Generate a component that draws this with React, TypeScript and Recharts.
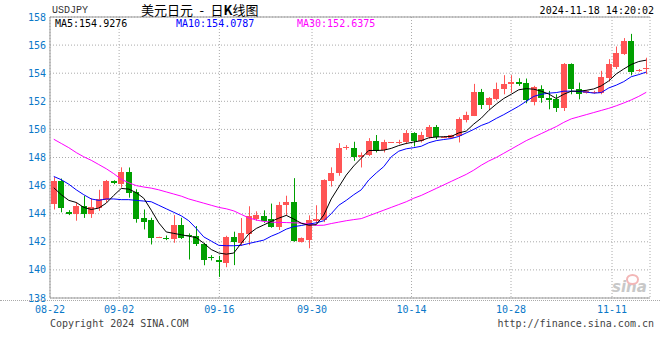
import React from "react";
import {
  ComposedChart,
  Bar,
  Line,
  XAxis,
  YAxis,
  CartesianGrid,
  ReferenceLine,
} from "recharts";

// USDJPY daily candles
const open = [
  144.7, 146.3, 144.1, 144.0, 144.55, 143.95, 144.38, 145.0, 146.3, 146.1,
  147.0, 145.57, 143.71, 143.52, 142.3, 142.3, 142.17, 143.19, 142.5, 142.4,
  141.86, 140.9, 140.74, 140.46, 142.31, 141.9, 142.55, 143.64, 143.86, 143.59,
  143.08, 144.6, 144.82, 142.0, 142.14, 143.45, 143.52, 146.34, 146.9, 148.68,
  148.71, 148.07, 148.19, 149.17, 148.52, 149.05, 149.05, 149.07, 149.74, 149.19,
  149.48, 150.14, 149.43, 149.38, 149.5, 150.67, 150.98, 152.69, 151.76, 152.14,
  152.86, 153.21, 153.38, 153.33, 151.95, 152.9, 152.21, 152.19, 151.55, 154.64,
  152.9, 152.62, 152.6, 152.62, 153.69, 154.45, 155.4, 156.3, 154.15, 154.29,
];
const high = [
  146.6, 146.5, 144.25, 144.8, 145.26, 145.1, 145.7, 146.4, 146.38, 147.3,
  147.29, 145.74, 144.3, 143.71, 142.36, 142.45, 143.9, 143.71, 142.6, 143.12,
  141.93, 141.05, 141.0, 142.43, 142.72, 143.69, 144.53, 144.17, 144.24, 144.72,
  144.84, 145.28, 146.53, 142.31, 143.88, 144.6, 146.45, 147.3, 149.02, 148.88,
  149.12, 148.36, 149.38, 149.6, 149.26, 149.1, 149.26, 149.95, 149.8, 149.83,
  150.31, 150.31, 149.52, 149.62, 150.86, 151.26, 153.24, 152.88, 152.3, 153.33,
  153.86, 153.86, 153.64, 153.62, 153.1, 153.14, 152.74, 152.5, 154.72, 154.7,
  153.33, 152.8, 152.75, 154.17, 155.0, 155.9, 156.5, 156.8, 154.3, 155.1,
];
const low = [
  144.3, 144.1, 143.9, 143.5, 143.7, 143.7, 144.2, 144.8, 146.1, 145.86,
  145.14, 143.36, 142.88, 141.81, 142.29, 142.12, 141.93, 142.2, 140.74, 141.7,
  140.33, 140.67, 139.5, 140.19, 140.34, 141.71, 141.76, 143.5, 143.35, 143.0,
  142.84, 143.88, 142.0, 141.95, 141.54, 143.28, 143.4, 145.93, 146.7, 148.55,
  147.76, 147.29, 148.1, 148.36, 148.36, 149.03, 148.95, 148.95, 148.79, 149.07,
  149.36, 149.31, 149.38, 149.35, 149.07, 150.5, 150.95, 151.45, 151.4, 152.07,
  152.5, 152.62, 153.1, 151.86, 151.71, 151.9, 151.43, 151.24, 151.31, 152.5,
  152.14, 152.55, 152.55, 152.5, 153.4, 154.3, 155.3, 153.85, 154.1, 153.93,
];
const close = [
  146.3, 144.4, 144.0, 144.57, 143.95, 144.48, 145.07, 146.33, 146.17, 147.0,
  145.45, 143.64, 143.43, 142.24, 142.35, 142.25, 143.19, 142.24, 142.38, 141.81,
  140.74, 140.83, 140.57, 142.31, 142.0, 142.63, 143.81, 143.93, 143.47, 143.08,
  144.65, 144.82, 142.07, 142.24, 143.52, 143.64, 146.41, 146.89, 148.67, 148.74,
  148.05, 148.17, 149.17, 148.48, 149.07, 149.08, 149.12, 149.74, 149.19, 149.6,
  150.14, 149.43, 149.47, 149.6, 150.74, 151.02, 152.69, 151.76, 152.26, 152.9,
  153.21, 153.38, 153.26, 152.07, 153.05, 152.21, 152.1, 151.5, 154.69, 152.86,
  152.5, 152.72, 152.68, 153.74, 154.64, 155.45, 156.28, 154.1, 154.25, 154.4,
];

const ma5 = [
  145.85, 145.35, 144.95, 144.8, 144.45, 144.3, 144.4, 144.75, 145.3, 145.8,
  145.75, 145.5, 145.1, 144.25, 143.35, 142.7, 142.6, 142.5, 142.4, 142.3,
  141.9, 141.45, 141.2, 141.12, 141.2, 141.9, 142.55, 142.95, 143.2, 143.45,
  143.68, 143.88, 143.62, 143.32, 143.18, 143.22, 143.9, 145.05, 145.9, 146.75,
  147.4, 147.95, 148.5, 148.5, 148.52, 148.65, 148.85, 149.0, 149.1, 149.2,
  149.4, 149.46, 149.48, 149.5, 149.75, 149.88, 150.38, 150.8, 151.35, 151.8,
  152.2, 152.5, 152.82, 152.9, 152.86, 152.72, 152.52, 152.2, 152.5, 152.72,
  152.72, 152.78, 152.88, 153.1, 153.45, 153.95, 154.3, 154.62, 154.83, 154.93,
];
const ma10 = [
  146.65, 146.42, 146.1, 145.7, 145.35, 145.05, 144.95, 145.05, 145.05, 145.0,
  145.0, 144.95, 144.9, 144.85, 144.6, 144.35, 144.1, 143.85, 143.5, 142.95,
  142.35, 142.05, 141.75, 141.72, 141.72, 141.75, 141.88, 142.0, 142.12, 142.4,
  142.62, 142.9, 143.08, 143.16, 143.26, 143.35, 143.5, 144.0, 144.6, 144.95,
  145.35, 145.7, 146.4, 146.9, 147.35, 148.05, 148.45, 148.62, 148.7, 148.8,
  149.05, 149.2, 149.28, 149.35, 149.5, 149.75, 150.0, 150.28, 150.48, 150.78,
  151.05, 151.35, 151.65, 152.0, 152.35, 152.5, 152.58, 152.62, 152.72, 152.72,
  152.7, 152.66, 152.58, 152.62, 152.95, 153.15, 153.4, 153.75, 153.9, 154.08,
];
const ma30 = [
  149.3, 149.0, 148.7, 148.35, 148.05, 147.8, 147.5, 147.2, 146.85, 146.45,
  146.2, 146.0, 145.9, 145.82, 145.7, 145.55, 145.4, 145.25, 145.05, 144.9,
  144.75, 144.6, 144.45, 144.35, 144.2, 143.95, 143.7, 143.55, 143.45, 143.4,
  143.38, 143.37, 143.35, 143.33, 143.25, 143.17, 143.18, 143.3, 143.4, 143.5,
  143.58, 143.65, 143.85, 144.05, 144.25, 144.45, 144.65, 144.85, 145.1, 145.3,
  145.55, 145.8, 146.05, 146.3, 146.55, 146.8, 147.1, 147.45, 147.75, 148.0,
  148.3, 148.6, 148.9, 149.2, 149.45, 149.7, 149.95, 150.2, 150.5, 150.75,
  150.9, 151.05, 151.2, 151.35, 151.5, 151.68, 151.88, 152.1, 152.35, 152.64,
];

const tickPos = [0, 9.1, 22.3, 34.5, 47.6, 60.7, 74];
const tickLabels = ["08-22", "09-02", "09-16", "09-30", "10-14", "10-28", "11-11"];
const yTicks = [138, 140, 142, 144, 146, 148, 150, 152, 154, 156, 158];

const rows = open.map((o, i) => ({
  i,
  open: o,
  high: high[i],
  low: low[i],
  close: close[i],
  range: [low[i], high[i]],
  ma5: ma5[i],
  ma10: ma10[i],
  ma30: ma30[i],
}));

const UP = "#ff5555";
const DOWN = "#00a000";
const BLUE = "#0a78c8";
const MONO = "DejaVu Sans Mono, monospace";

const Candle = (props: any) => {
  const { x, y, width, height, payload } = props;
  if (x == null || y == null) return null;
  const { open: o, close: c, high: h, low: l } = payload;
  const top = Math.min(y, y + height);
  const span = Math.abs(height);
  const k = h > l ? span / (h - l) : 0;
  const py = (v: number) => top + (h - v) * k;
  const cx = Math.floor(x + width / 2);
  const color = c >= o ? UP : DOWN;
  const bTop = Math.round(py(Math.max(o, c)));
  const bH = Math.max(1, Math.round(py(Math.min(o, c))) - bTop);
  return (
    <g>
      <line x1={cx + 0.5} x2={cx + 0.5} y1={py(h)} y2={py(l)} stroke={color} strokeWidth={1} />
      <rect x={cx - 3} y={bTop} width={6} height={bH} fill={color} />
    </g>
  );
};

const text = (s: any) => ({
  position: "absolute" as const,
  fontFamily: MONO,
  fontSize: 10,
  lineHeight: "10px",
  whiteSpace: "pre" as const,
  ...s,
});

export default function App() {
  return (
    <div style={{ position: "absolute", left: 0, top: 0, width: 660, height: 360, background: "#fff" }}>
      <ComposedChart
        width={660}
        height={360}
        data={rows}
        margin={{ top: 17, right: 10, bottom: 32, left: 0 }}
      >
        <CartesianGrid stroke="#aaa" strokeDasharray="1 2" />
        <XAxis
          type="number"
          domain={[0, 80]}
          allowDataOverflow
          ticks={tickPos}
          tickFormatter={(v) => tickLabels[tickPos.indexOf(v)]}
          interval={0}
          height={30}
          tickLine={false}
          stroke="#999"
          tick={{ fill: BLUE, fontSize: 10, fontFamily: MONO }}
        />
        <XAxis xAxisId="c" dataKey="i" type="category" hide />
        <YAxis
          domain={[138, 158]}
          ticks={yTicks}
          interval={0}
          width={50}
          tickLine={false}
          tickSize={2}
          tickMargin={2}
          stroke="#999"
          tick={{ fill: BLUE, fontSize: 10, fontFamily: MONO }}
        />
        <ReferenceLine y={158} stroke="#999" />
        <ReferenceLine x={80} stroke="#999" />
        <Bar xAxisId="c" dataKey="range" barSize={6} shape={<Candle />} isAnimationActive={false} />
        <Line xAxisId="c" dataKey="ma30" stroke="#ff00ff" strokeWidth={1} dot={false} type="linear" isAnimationActive={false} />
        <Line xAxisId="c" dataKey="ma10" stroke="#0000ff" strokeWidth={1} dot={false} type="linear" isAnimationActive={false} />
        <Line xAxisId="c" dataKey="ma5" stroke="#000" strokeWidth={1} dot={false} type="linear" isAnimationActive={false} />
      </ComposedChart>

      <div style={{ position: "absolute", left: 0, top: 300, width: 660, borderTop: "1px dotted #aaa" }} />

      <div style={text({ left: 52, top: 6, fontFamily: "Liberation Mono, monospace", color: "#333" })}>USDJPY</div>
      <div style={text({ left: 141, top: 3, fontSize: 13, lineHeight: "14px", fontFamily: "Noto Sans CJK SC, sans-serif", color: "#000" })}>
        {"美元日元\u2002-\u2002日"}<b>K</b>{"线图"}
      </div>
      <div style={text({ right: 6, top: 6, color: "#000" })}>2024-11-18 14:20:02</div>

      <div style={text({ left: 55, top: 19, color: "#000" })}>MA5:154.9276</div>
      <div style={text({ left: 176, top: 19, color: "#0000ff" })}>MA10:154.0787</div>
      <div style={text({ left: 297, top: 19, color: "#ff00ff" })}>MA30:152.6375</div>

      <div style={text({ left: 50, top: 319, color: "#444" })}>Copyright 2024 SINA.COM</div>
      <div style={text({ right: 6, top: 319, color: "#444" })}>http://finance.sina.com.cn</div>

      <div
        style={{
          position: "absolute",
          left: 612,
          top: 280,
          fontFamily: "DejaVu Sans, sans-serif",
          fontSize: 15,
          fontWeight: "bold",
          fontStyle: "italic",
          color: "#c8c8c8",
          lineHeight: "15px",
        }}
      >
        sina
      </div>
      <div
        style={{
          position: "absolute",
          left: 626,
          top: 274,
          width: 9,
          height: 7,
          borderRadius: "50%",
          border: "2px solid #f3b7b7",
        }}
      />
    </div>
  );
}
